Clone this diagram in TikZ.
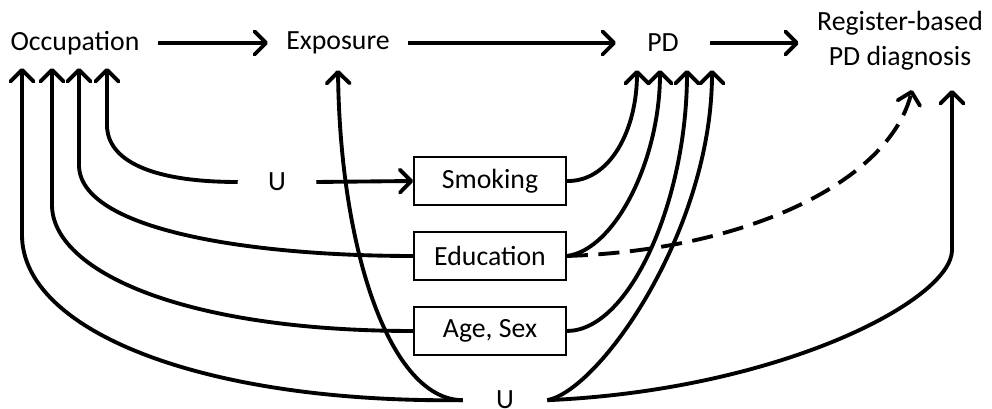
\documentclass[tikz,border=0pt]{standalone}
\usepackage{fontspec}
\setmainfont{Carlito}
\usetikzlibrary{arrows.meta}
\usetikzlibrary{positioning}
\tikzset{arr/.style = {line width=2.2pt,
                       -{Straight Barb[length=2.3mm,width=4.6mm,line cap=round,line join=round]}},
         box/.style = {draw, line width=0.9pt, minimum width=3.04cm, minimum height=0.96cm,
                       inner sep=0pt},
         lbl/.style = {inner sep=0pt, inner xsep=0.36cm},
         every node/.style = {font=\fontsize{15.8}{20}\selectfont}}

\begin{document}
\begin{tikzpicture}
    \useasboundingbox (0, 0) rectangle (19.84, 8.18);
    % top row
    \node [lbl] (occ) at (1.5, 7.32) {Occupation};
    \node [lbl] (expo) at (6.76, 7.32) {Exposure};
    \node [lbl, inner xsep=0.62cm] (pd) at (13.26, 7.32) {PD};
    \node [lbl, align=center] (reg) at (18.0, 7.36) {Register-based\\PD diagnosis};
    \draw [arr] (occ) -- (expo);
    \draw [arr] (expo) -- (pd);
    \draw [arr] (pd.east) -- (pd.east -| reg.west);
    % covariates
    \node [box] (smk) at (9.8, 4.56) {Smoking};
    \node [box] (edu) at (9.8, 3.06) {Education};
    \node [box] (age) at (9.8, 1.56) {Age, Sex};
    \node [inner sep=0pt, inner xsep=0.6cm] (ua) at (5.54, 4.54) {U};
    \node [inner sep=0pt, inner xsep=0.66cm, anchor=base] (ub) at (10.1, 0.0) {U};
    % arrow ends
    \coordinate (occ-a) at (0.44, 6.82);
    \coordinate (occ-b) at (1.04, 6.82);
    \coordinate (occ-c) at (1.58, 6.82);
    \coordinate (occ-d) at (2.14, 6.82);
    \coordinate (expo-in) at (6.76, 6.78);
    \coordinate (pd-a) at (12.74, 6.78);
    \coordinate (pd-b) at (13.2, 6.78);
    \coordinate (pd-c) at (13.74, 6.78);
    \coordinate (pd-d) at (14.24, 6.78);
    \coordinate (reg-a) at (18.24, 6.38);
    \coordinate (reg-b) at (19.04, 6.38);
    % into occupation
    \draw [arr] (ua.west) .. controls (3.0, 4.54) and (2.14, 4.98) .. (2.14, 5.68) -- (occ-d);
    \draw [arr] (edu.west) .. controls (5.0, 3.06) and (1.58, 3.58) .. (1.58, 4.88) -- (occ-c);
    \draw [arr] (age.west) .. controls (3.6, 1.56) and (1.04, 2.78) .. (1.04, 4.08) -- (occ-b);
    \draw [arr] (ub.west) .. controls (4.0, 0.12) and (0.44, 1.58) .. (0.44, 3.48) -- (occ-a);
    \draw [arr] (ub.west) .. controls (7.8, 0.18) and (6.8, 3.18) .. (expo-in);
    \draw [arr] (ua.east) -- (smk.west);
    % into PD
    \draw [arr] (smk.east) .. controls (12.2, 4.54) and (12.74, 5.58) .. (pd-a);
    \draw [arr] (edu.east) .. controls (12.3, 3.18) and (13.2, 4.98) .. (pd-b);
    \draw [arr] (age.east) .. controls (12.6, 1.56) and (13.74, 4.18) .. (pd-c);
    \draw [arr] (ub.east) .. controls (12.0, 0.38) and (14.24, 3.58) .. (pd-d);
    % into diagnosis
    \draw [arr, dash pattern=on 12pt off 6pt] (edu.east) .. controls (15.0, 3.18) and (17.8, 4.58) .. (reg-a);
    \draw [arr] (ub.east) .. controls (15.6, 0.38) and (19.04, 2.18) .. (19.04, 3.18) -- (reg-b);
  \end{tikzpicture}
\end{document}
